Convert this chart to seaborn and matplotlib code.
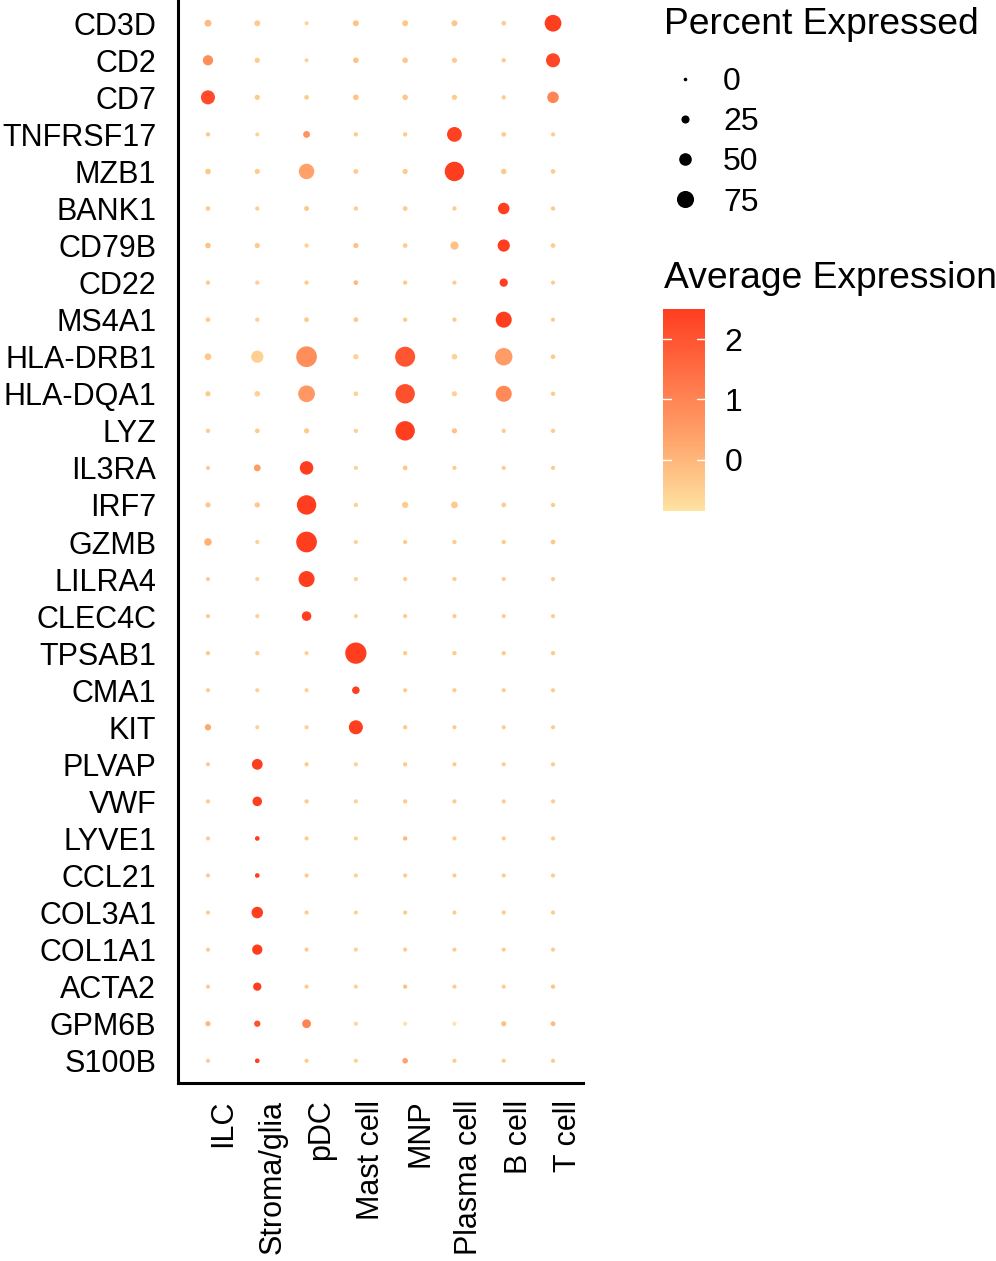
import matplotlib
matplotlib.use('Agg')
import matplotlib.pyplot as plt
from matplotlib.colors import LinearSegmentedColormap, Normalize
from matplotlib.cm import ScalarMappable
from matplotlib.lines import Line2D
import numpy as np
import pandas as pd
import seaborn as sns

# 基因（从上到下）与细胞类型（从左到右）
genes = ['CD3D', 'CD2', 'CD7', 'TNFRSF17', 'MZB1', 'BANK1', 'CD79B', 'CD22',
         'MS4A1', 'HLA-DRB1', 'HLA-DQA1', 'LYZ', 'IL3RA', 'IRF7', 'GZMB',
         'LILRA4', 'CLEC4C', 'TPSAB1', 'CMA1', 'KIT', 'PLVAP', 'VWF', 'LYVE1',
         'CCL21', 'COL3A1', 'COL1A1', 'ACTA2', 'GPM6B', 'S100B']
cell_types = ['ILC', 'Stroma/glia', 'pDC', 'Mast cell', 'MNP', 'Plasma cell',
              'B cell', 'T cell']

# Percent Expressed，每列一个细胞类型
pct_ilc = [18, 37, 58, 4, 11, 6, 11, 4, 6, 17, 9, 4, 3, 9, 22, 3, 3, 4, 3, 15,
           3, 3, 3, 3, 3, 3, 3, 9, 3]
pct_stroma = [13, 9, 9, 2, 9, 4, 9, 4, 4, 48, 11, 6, 18, 9, 3, 3, 3, 4, 3, 3,
              40, 33, 6, 6, 44, 37, 26, 15, 6]
pct_pdc = [2, 2, 6, 18, 66, 7, 4, 4, 7, 95, 73, 9, 55, 88, 95, 69, 33, 3, 3, 3,
           4, 4, 3, 3, 3, 3, 3, 29, 3]
pct_mast = [13, 11, 11, 4, 7, 4, 9, 6, 6, 9, 6, 4, 3, 4, 3, 3, 3, 98, 22, 58,
            3, 3, 3, 3, 3, 3, 3, 3, 3]
pct_mnp = [13, 11, 11, 4, 9, 6, 6, 4, 4, 91, 88, 88, 6, 15, 4, 3, 3, 4, 3, 4,
           4, 4, 4, 3, 3, 3, 4, 3, 11]
pct_plasma = [13, 9, 9, 62, 88, 4, 26, 3, 4, 11, 9, 9, 3, 18, 4, 3, 3, 4, 3, 3,
              3, 3, 3, 3, 3, 3, 3, 3, 3]
pct_b = [6, 4, 4, 6, 11, 44, 48, 26, 69, 77, 69, 4, 3, 6, 4, 3, 3, 4, 3, 3,
         3, 3, 3, 3, 3, 3, 3, 9, 3]
pct_t = [73, 58, 44, 3, 6, 4, 6, 3, 3, 6, 4, 4, 3, 4, 6, 3, 3, 4, 3, 3,
         3, 3, 3, 3, 3, 3, 4, 7, 3]

# Average Expression
expr_ilc = [-0.1, 0.8, 2.2, -0.3, -0.3, -0.4, -0.2, -0.4, -0.4, -0.3, -0.4,
            -0.4, -0.4, -0.3, 0.1, -0.4, -0.4, -0.4, -0.4, 0.3, -0.4, -0.4,
            -0.4, -0.4, -0.4, -0.4, -0.4, 0.0, -0.4]
expr_stroma = [-0.4, -0.4, -0.4, -0.5, -0.4, -0.5, -0.4, -0.5, -0.5, -0.5,
               -0.5, -0.4, 0.5, -0.3, -0.5, -0.5, -0.5, -0.5, -0.5, -0.5, 2.5,
               2.5, 2.5, 2.5, 2.5, 2.5, 2.5, 2.1, 2.5]
expr_pdc = [-0.5, -0.5, -0.4, 0.7, 0.4, -0.3, -0.5, -0.4, -0.4, 0.8, 0.6, -0.4,
            2.5, 2.5, 2.5, 2.5, 2.5, -0.5, -0.5, -0.5, -0.4, -0.4, -0.4, -0.4,
            -0.4, -0.4, -0.4, 1.0, -0.4]
expr_mast = [-0.2, -0.2, -0.2, -0.4, -0.4, -0.4, -0.2, 0.0, -0.3, -0.5, -0.5,
             -0.5, -0.5, -0.5, -0.5, -0.5, -0.5, 2.5, 2.5, 2.5, -0.5, -0.5,
             -0.5, -0.5, -0.5, -0.5, -0.5, -0.6, -0.5]
expr_mnp = [-0.3, -0.3, -0.3, -0.4, -0.4, -0.4, -0.4, -0.4, -0.4, 2.0, 2.1, 2.5,
            -0.3, -0.4, -0.4, -0.4, -0.4, -0.4, -0.4, -0.4, -0.4, -0.4, 0.0,
            -0.4, -0.4, -0.4, -0.2, -0.85, 0.4]
expr_plasma = [-0.3, -0.4, -0.4, 2.4, 2.5, -0.4, -0.2, -0.4, -0.4, -0.5, -0.5,
               -0.2, -0.4, -0.4, -0.4, -0.4, -0.4, -0.4, -0.4, -0.4, -0.4,
               -0.4, -0.4, -0.4, -0.4, -0.4, -0.4, -0.85, -0.4]
expr_b = [-0.4, -0.4, -0.4, -0.4, -0.4, 2.5, 2.5, 2.5, 2.5, 0.5, 0.9, -0.4,
          -0.4, -0.4, -0.4, -0.4, -0.4, -0.4, -0.4, -0.4, -0.4, -0.4, -0.4,
          -0.4, -0.4, -0.4, -0.4, -0.2, -0.4]
expr_t = [2.5, 2.3, 1.0, -0.4, -0.4, -0.4, -0.4, -0.4, -0.4, -0.4, -0.4, -0.4,
          -0.4, -0.4, -0.3, -0.4, -0.4, -0.4, -0.4, -0.4, -0.4, -0.4, -0.4,
          -0.4, -0.4, -0.4, -0.3, -0.1, -0.4]

legend_pcts = [0, 25, 50, 75]
cbar_ticks = [0, 1, 2]

pct_cols = [pct_ilc, pct_stroma, pct_pdc, pct_mast, pct_mnp, pct_plasma, pct_b, pct_t]
expr_cols = [expr_ilc, expr_stroma, expr_pdc, expr_mast, expr_mnp, expr_plasma, expr_b, expr_t]

rows = []
for cell, pcts, exprs in zip(cell_types, pct_cols, expr_cols):
    for gene, p, e in zip(genes, pcts, exprs):
        rows.append({'cell': cell, 'gene': gene, 'pct': p, 'expr': e})
df = pd.DataFrame(rows)

DPI = 100


def pct_to_area(p):
    # 半径随百分比线性变化（类似 ggplot scale_radius），返回 points^2
    d_px = 3.6 + 0.18 * p
    return (d_px * 72 / DPI) ** 2


size_map = {p: pct_to_area(p) for p in df['pct'].unique()}
vmin, vmax = df['expr'].min(), df['expr'].max()
cmap = LinearSegmentedColormap.from_list(
    'expr', [(0, '#FEE3A1'), (0.35, '#FFA56C'), (1, '#FF3D1F')])

sns.set_style('white')
plt.rcParams['font.family'] = ['Liberation Sans', 'DejaVu Sans']
plt.rcParams['text.color'] = 'black'
plt.rcParams['axes.labelcolor'] = 'black'
plt.rcParams['xtick.color'] = 'black'
plt.rcParams['ytick.color'] = 'black'

fig = plt.figure(figsize=(9.96, 12.61), dpi=DPI)
ax = fig.add_axes([178.4 / 996, 1 - 1083 / 1261, 404.2 / 996, 1082 / 1261])

sns.scatterplot(data=df, x='cell', y='gene', size='pct', sizes=size_map,
                hue='expr', palette=cmap, hue_norm=(vmin, vmax),
                linewidth=0, legend=False, ax=ax)

ax.set_xlim(-0.6, len(cell_types) - 0.4)
ax.set_ylim(len(genes) - 0.4, -0.6)
ax.set_xlabel('')
ax.set_ylabel('')
for side in ['top', 'right']:
    ax.spines[side].set_visible(False)
for side in ['left', 'bottom']:
    ax.spines[side].set_color('black')
    ax.spines[side].set_linewidth(2.2)
ax.tick_params(axis='both', colors='black', labelcolor='black', length=6,
               width=2.2, labelsize=22, direction='out')
ax.tick_params(axis='y', pad=10)
ax.tick_params(axis='x', pad=6, labelrotation=90)
for lab in ax.get_xticklabels():
    lab.set_horizontalalignment('left')
    lab.set_verticalalignment('top')

# Percent Expressed 图例
fig.text(664 / 996, 1 - 25 / 1261, 'Percent Expressed', fontsize=26.8,
         ha='left', va='center')
handles = [Line2D([], [], linestyle='none', marker='o', color='black',
                  markeredgewidth=0, markersize=np.sqrt(pct_to_area(p)))
           for p in legend_pcts]
leg = fig.legend(handles, [str(p) for p in legend_pcts], loc='upper left',
                 bbox_to_anchor=(664 / 996, 1 - 67 / 1261), frameon=False,
                 fontsize=23, handlelength=1.3, handletextpad=0.55,
                 labelspacing=0.32, borderpad=0, borderaxespad=0)

# Average Expression 色条
fig.text(664 / 996, 1 - 278 / 1261, 'Average Expression', fontsize=26.8,
         ha='left', va='center')
cax = fig.add_axes([663 / 996, 1 - 511 / 1261, 42 / 996, 202 / 1261])
sm = ScalarMappable(norm=Normalize(vmin, vmax), cmap=cmap)
cb = fig.colorbar(sm, cax=cax, ticks=cbar_ticks)
cb.outline.set_visible(False)
cax.tick_params(length=0, labelsize=23, pad=14, labelcolor='black')
for t in cbar_ticks:
    cax.axhline(t, xmin=0, xmax=0.2, color='white', lw=1)
    cax.axhline(t, xmin=0.8, xmax=1, color='white', lw=1)

fig.savefig('out.png', dpi=DPI, facecolor='white')
